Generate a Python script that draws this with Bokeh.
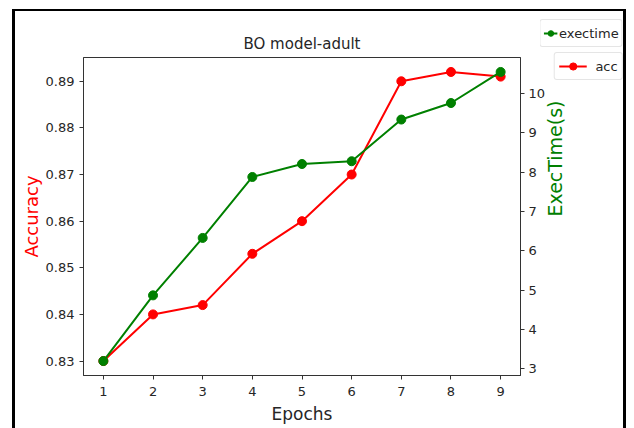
import math
from bokeh.plotting import figure
from bokeh.layouts import column
from bokeh.models import Range1d, LinearAxis, FixedTicker, Legend, LegendItem, PrintfTickFormatter
from bokeh.embed import file_html
from bokeh.resources import INLINE

# ---- data ----
epochs = [1, 2, 3, 4, 5, 6, 7, 8, 9]
accuracy = [0.830, 0.840, 0.842, 0.853, 0.860, 0.870, 0.890, 0.892, 0.891]
exectime = [3.20, 4.87, 6.33, 7.88, 8.21, 8.28, 9.34, 9.76, 10.55]
x_ticks = [1, 2, 3, 4, 5, 6, 7, 8, 9]
acc_ticks = [0.83, 0.84, 0.85, 0.86, 0.87, 0.88, 0.89]
exec_ticks = [3, 4, 5, 6, 7, 8, 9, 10]
title_text = "BO model-adult"
x_label = "Epochs"
acc_label = "Accuracy"
exec_label = "ExecTime(s)"
acc_name = "acc"
exec_name = "exectime"


def pad(vals, frac=0.05):
    lo, hi = min(vals), max(vals)
    m = (hi - lo) * frac
    return lo - m, hi + m


RED = "#ff0000"
GREEN = "#008000"
INK = "#262626"
FONT = "DejaVu Sans"

p = figure(width=608, height=417, output_backend="svg", toolbar_location=None,
           x_range=Range1d(*pad(epochs)), y_range=Range1d(*pad(accuracy)),
           title=title_text,
           min_border_left=68, min_border_right=109,
           min_border_top=46, min_border_bottom=55)
p.styles = {"box-sizing": "content-box",
            "border-top": "2px solid black", "border-left": "3px solid black",
            "border-right": "3px solid black", "margin-left": "12px", "margin-top": "9px"}
p.extra_y_ranges = {"exec": Range1d(*pad(exectime))}
p.grid.visible = False
p.outline_line_color = "#333333"
p.outline_line_width = 1
p.background_fill_color = "white"
p.border_fill_color = "white"

p.title.text_font = FONT
p.title.text_font_size = "15px"
p.title.text_font_style = "normal"
p.title.text_color = INK
p.title.align = "center"
p.title.standoff = 9


def style_axis(ax):
    ax.axis_line_color = "#333333"
    ax.major_tick_line_color = "#333333"
    ax.major_tick_out = 4
    ax.major_tick_in = 0
    ax.minor_tick_line_color = None
    ax.major_label_text_font = FONT
    ax.major_label_text_font_size = "13px"
    ax.major_label_text_color = INK
    ax.axis_label_text_font = FONT
    ax.axis_label_text_font_style = "normal"


xa = p.xaxis[0]
style_axis(xa)
xa.ticker = FixedTicker(ticks=x_ticks)
xa.axis_label = x_label
xa.axis_label_text_font_size = "17px"
xa.axis_label_text_color = INK
xa.major_label_standoff = 7
xa.axis_label_standoff = 5

ya = p.yaxis[0]
style_axis(ya)
ya.ticker = FixedTicker(ticks=acc_ticks)
ya.formatter = PrintfTickFormatter(format="%.2f")
ya.axis_label = acc_label
ya.axis_label_text_font_size = "18px"
ya.axis_label_text_color = RED
ya.major_label_standoff = 5
ya.axis_label_standoff = 1

ra = LinearAxis(y_range_name="exec", ticker=FixedTicker(ticks=exec_ticks),
                axis_label=exec_label)
style_axis(ra)
ra.axis_label_text_font_size = "19px"
ra.axis_label_text_color = GREEN
ra.major_label_standoff = 4
ra.axis_label_standoff = 7
try:
    ra.axis_label_orientation = math.pi / 2
except Exception:
    pass
p.add_layout(ra, "right")

# accuracy (red) first, exectime (green) on top
rl = p.line(epochs, accuracy, line_color=RED, line_width=2)
rs = p.scatter(epochs, accuracy, size=9, fill_color=RED, line_color=RED)
gl = p.line(epochs, exectime, line_color=GREEN, line_width=2, y_range_name="exec")
gs = p.scatter(epochs, exectime, size=9, fill_color=GREEN, line_color=GREEN, y_range_name="exec")

# ---- legend holder, overlaid at the top-right corner ----
q = figure(width=107, height=63, output_backend="svg", toolbar_location=None,
           x_axis_location=None, y_axis_location=None,
           min_border=1, min_border_left=1, min_border_right=1,
           min_border_top=1, min_border_bottom=1)
q.outline_line_color = None
q.background_fill_color = None
q.border_fill_color = None
q.grid.visible = False
q.styles = {"position": "absolute", "left": "528px", "top": "18px"}
# legend-sample renderers (hidden; they only give the legend its glyph styles)
ql_g = q.line(epochs, exectime, line_color=GREEN, line_width=2, visible=False)
qs_g = q.scatter(epochs, exectime, size=9, fill_color=GREEN, line_color=GREEN, visible=False)
ql_r = q.line(epochs, accuracy, line_color=RED, line_width=2, visible=False)
qs_r = q.scatter(epochs, accuracy, size=9, fill_color=RED, line_color=RED, visible=False)


def make_legend(label, rends, loc, padding=4, glyph_width=28, standoff=9, row_h=18):
    lg = Legend(items=[LegendItem(label=label, renderers=rends)], location=loc)
    lg.border_line_color = "#cccccc"
    lg.border_line_width = 1
    lg.background_fill_color = "white"
    lg.background_fill_alpha = 0.8
    lg.inactive_fill_alpha = 0
    lg.padding = padding
    lg.margin = 0
    lg.spacing = 0
    lg.glyph_width = glyph_width
    lg.glyph_height = row_h
    lg.label_height = row_h
    lg.label_standoff = standoff
    lg.label_text_font = FONT
    lg.label_text_font_size = "13px"
    lg.label_text_color = INK
    try:
        lg.border_radius = 3
    except Exception:
        pass
    return lg


q.add_layout(make_legend(exec_name, [ql_g, qs_g], "top_right",
                         padding=3, glyph_width=14, standoff=2, row_h=20))
q.add_layout(make_legend(acc_name, [ql_r, qs_r], "bottom_right"))

layout = column(p, q)
open("out.html", "w").write(file_html(layout, INLINE))
